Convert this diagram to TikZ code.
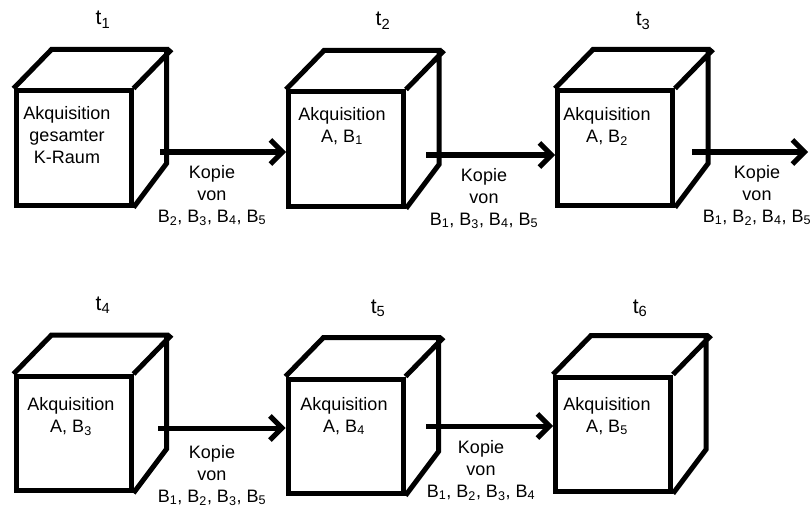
\documentclass[tikz,border=0pt]{standalone}
\usepackage{fontspec}
\setmainfont{Liberation Sans}
\usetikzlibrary{arrows.meta}
\begin{document}
\begin{tikzpicture}[x=1pt,y=-1pt,
  face/.style={draw, line width=5pt, line join=miter, minimum width=115pt,
    minimum height=114pt, inner sep=0pt},
  edge/.style={line width=5pt, line join=miter},
  arr/.style={line width=5pt, -{Straight Barb[length=12pt,width=24pt]}},
  body/.style={font=\fontsize{18}{22}\selectfont, align=center, inner sep=0pt, anchor=north},
  stamp/.style={font=\fontsize{21}{24}\selectfont, inner sep=0pt, anchor=base},
]
\useasboundingbox (0,0) rectangle (811,508);

% front faces of the six cubes
\node[face] (c1) at (73.5,148) {};
\node[face] (c2) at (346,149) {};
\node[face] (c3) at (615,148) {};
\node[face] (c4) at (73.5,433.5) {};
\node[face] (c5) at (345.5,436) {};
\node[face] (c6) at (613,434) {};

% top and side faces
\foreach \c in {c1,c2,c3,c4,c5,c6}{
  \draw[edge] (\c.north west) -- ++(38,-39) -- ++(115,0) -- ++(0,114) -- (\c.south east)
              (\c.north east) -- ++(38,-39);
}

% time stamps
\node[stamp] (t1) at (103,25) {t\textsubscript{1}};
\node[stamp] (t2) at (383,26) {t\textsubscript{2}};
\node[stamp] (t3) at (643,26) {t\textsubscript{3}};
\node[stamp] (t4) at (103,310) {t\textsubscript{4}};
\node[stamp] (t5) at (378,313) {t\textsubscript{5}};
\node[stamp] (t6) at (640,313) {t\textsubscript{6}};

% cube contents
\node[body] (l1) at (67,106) {Akquisition\\gesamter\\K-Raum};
\node[body] (l2) at (342,107) {Akquisition\\A, B\textsubscript{1}};
\node[body] (l3) at (607,107) {Akquisition\\A, B\textsubscript{2}};
\node[body] (l4) at (71,397) {Akquisition\\A, B\textsubscript{3}};
\node[body] (l5) at (344,397) {Akquisition\\A, B\textsubscript{4}};
\node[body] (l6) at (607,397) {Akquisition\\A, B\textsubscript{5}};

% transfer arrows
\coordinate (a1) at (160,152);
\coordinate (a2) at (426,155);
\coordinate (a3) at (692,152);
\coordinate (e3) at (808,152);
\coordinate (a4) at (158,428);
\coordinate (a5) at (426,426);
\draw[arr] (a1) -- (a1 -| c2.west);
\draw[arr] (a2) -- (a2 -| c3.west);
\draw[arr] (a3) -- (e3);
\draw[arr] (a4) -- (a4 -| c5.west);
\draw[arr] (a5) -- (a5 -| c6.west);

% arrow labels
\node[body] (k1) at (212,165) {Kopie\\von\\B\textsubscript{2}, B\textsubscript{3}, B\textsubscript{4}, B\textsubscript{5}};
\node[body] (k2) at (484,168) {Kopie\\von\\B\textsubscript{1}, B\textsubscript{3}, B\textsubscript{4}, B\textsubscript{5}};
\node[body] (k3) at (757,165) {Kopie\\von\\B\textsubscript{1}, B\textsubscript{2}, B\textsubscript{4}, B\textsubscript{5}};
\node[body] (k4) at (212,445) {Kopie\\von\\B\textsubscript{1}, B\textsubscript{2}, B\textsubscript{3}, B\textsubscript{5}};
\node[body] (k5) at (481,440) {Kopie\\von\\B\textsubscript{1}, B\textsubscript{2}, B\textsubscript{3}, B\textsubscript{4}};
\end{tikzpicture}
\end{document}
